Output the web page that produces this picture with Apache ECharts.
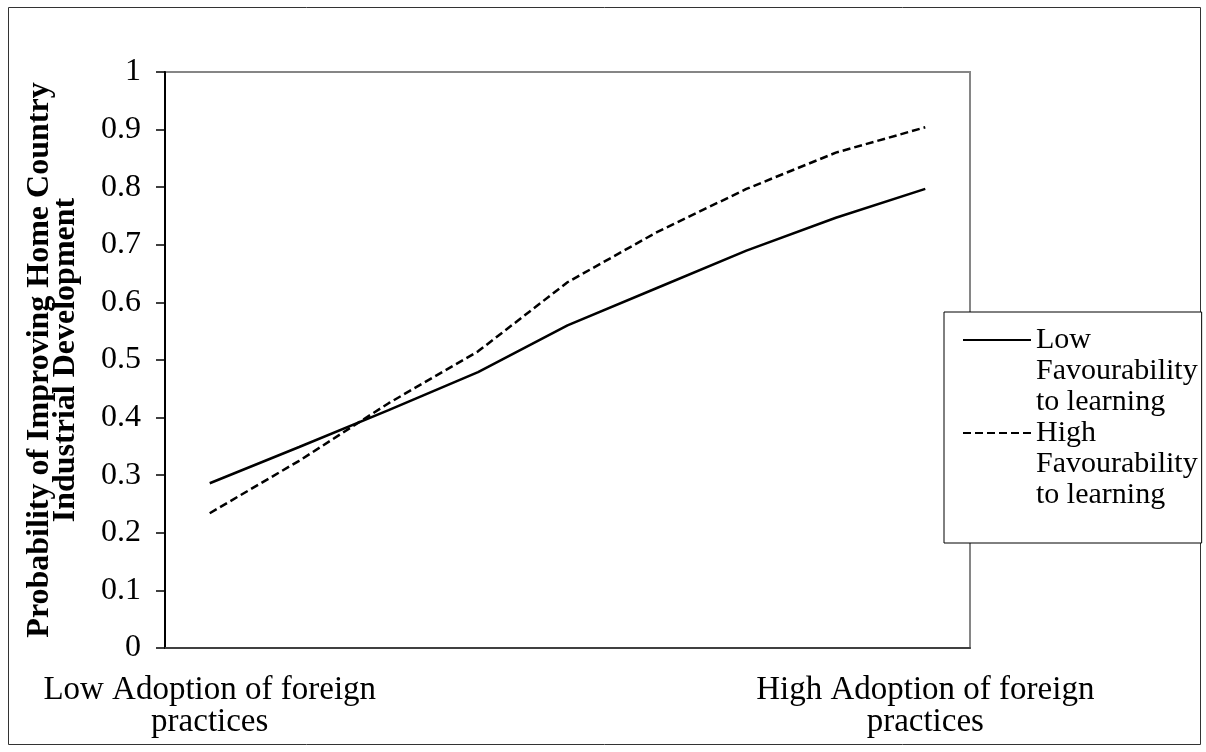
<!DOCTYPE html>
<html>
<head>
<meta charset="utf-8">
<script src="https://cdn.jsdelivr.net/npm/echarts@6/dist/echarts.min.js"></script>
<style>
  html, body { margin: 0; padding: 0; background: #fff; }
  #chart { width: 1206px; height: 752px; }
</style>
</head>
<body>
<div id="chart"></div>
<script>
// ---- data ----
const categories = ['1', '2', '3', '4', '5', '6', '7', '8', '9'];
const xTickLabels = ['Low Adoption of foreign\npractices', '', '', '', '', '', '', '', 'High Adoption of foreign\npractices'];
const yTickLabels = ['0', '0.1', '0.2', '0.3', '0.4', '0.5', '0.6', '0.7', '0.8', '0.9', '1'];
const seriesNames = ['Low Favourability to learning', 'High Favourability to learning'];
const legendText = ['Low\nFavourability\nto learning', 'High\nFavourability\nto learning'];
const lowFavourability = [0.286, 0.349, 0.413, 0.479, 0.560, 0.625, 0.690, 0.747, 0.797];
const highFavourability = [0.234, 0.325, 0.425, 0.515, 0.635, 0.722, 0.797, 0.860, 0.904];
const yAxisTitle = 'Probability of Improving Home Country\nIndustrial Development';

const serif = "'Times New Roman', 'Liberation Serif', serif";
const chart = echarts.init(document.getElementById('chart'), null, { renderer: 'canvas' });

chart.setOption({
  animation: false,
  backgroundColor: '#fff',
  grid: {
    left: 165, top: 72, width: 805, height: 576,
    show: true, borderColor: '#868686', borderWidth: 2, backgroundColor: 'transparent'
  },
  xAxis: {
    type: 'category',
    data: categories,
    boundaryGap: true,
    axisLine: { show: true, lineStyle: { color: '#404040', width: 2 } },
    axisTick: { show: false },
    splitLine: { show: false },
    axisLabel: {
      interval: 0,
      margin: 26,
      color: '#000',
      fontFamily: serif,
      fontSize: 33,
      lineHeight: 32,
      formatter: (v, i) => xTickLabels[i]
    }
  },
  yAxis: {
    type: 'value',
    min: 0, max: 1, interval: 0.1,
    name: yAxisTitle,
    nameLocation: 'middle',
    nameRotate: 90,
    nameGap: 86,
    nameTextStyle: { fontFamily: serif, fontWeight: 'bold', fontSize: 32, lineHeight: 26, color: '#000' },
    axisLine: { show: true, lineStyle: { color: '#000', width: 2 } },
    axisTick: { show: true, inside: false, length: 9, lineStyle: { color: '#000', width: 1.5 } },
    splitLine: { show: false },
    axisLabel: {
      margin: 24,
      color: '#000',
      fontFamily: serif,
      fontSize: 32,
      formatter: (v, i) => yTickLabels[i]
    }
  },
  legend: {
    orient: 'vertical',
    left: 944, top: 312,
    itemWidth: 68, itemHeight: 14, itemGap: -62,
    padding: [-49.5, 4, 32.5, 18],
    borderColor: '#000', borderWidth: 1, backgroundColor: '#fff',
    data: seriesNames,
    itemStyle: { color: 'transparent', borderColor: 'transparent', borderWidth: 0, opacity: 0 },
    // two leading blank lines keep the line sample level with the first text line
    formatter: (name) => '\n\n' + legendText[seriesNames.indexOf(name)],
    textStyle: { fontFamily: serif, fontSize: 30, lineHeight: 31, color: '#000' }
  },
  graphic: [{
    type: 'rect', silent: true,
    shape: { x: 8.5, y: 7.5, width: 1192, height: 737 },
    style: { fill: 'none', stroke: '#333', lineWidth: 1 }
  }],
  series: [
    {
      name: seriesNames[0], type: 'line', data: lowFavourability,
      symbol: 'none', showSymbol: false,
      lineStyle: { color: '#000', width: 2.5, type: 'solid' },
      itemStyle: { color: '#000' },
      emphasis: { disabled: true }
    },
    {
      name: seriesNames[1], type: 'line', data: highFavourability,
      symbol: 'none', showSymbol: false,
      lineStyle: { color: '#000', width: 2.5, type: [8, 4] },
      itemStyle: { color: '#000' },
      emphasis: { disabled: true }
    }
  ]
});
</script>
</body>
</html>
